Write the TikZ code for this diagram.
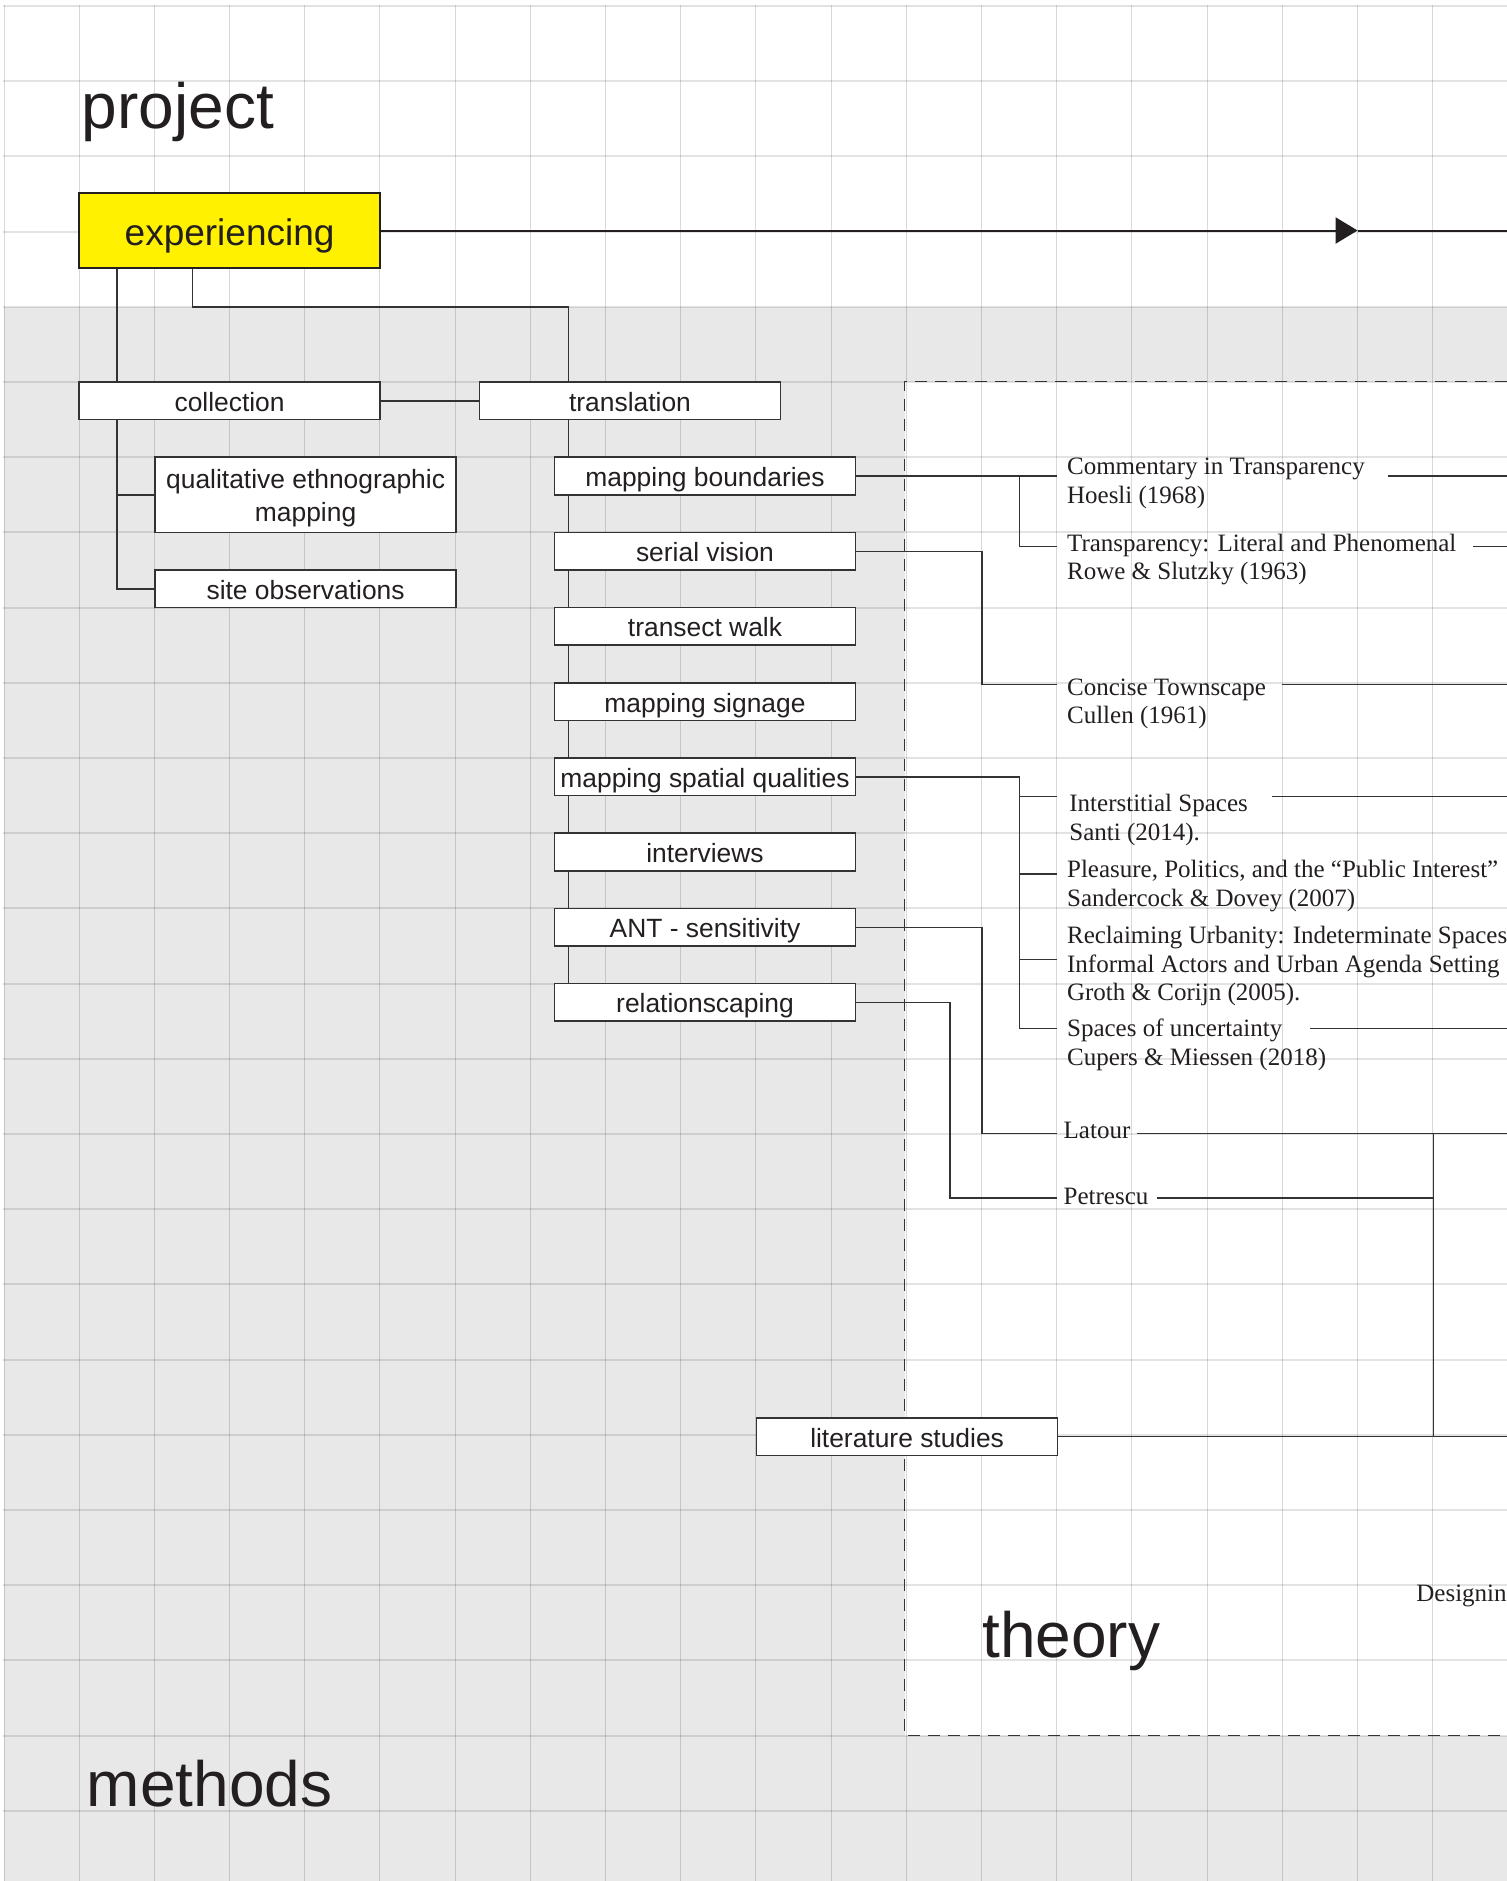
\documentclass[tikz,border=0pt]{standalone}
\usepackage{fontspec}
\setmainfont{Liberation Serif}
\setsansfont{Liberation Sans}
\usetikzlibrary{arrows.meta}
\definecolor{gridbg}{HTML}{E8E8E8}
\definecolor{ink}{HTML}{231F20}
\definecolor{linec}{HTML}{333333}
\definecolor{yel}{HTML}{FFF100}
\begin{document}
\begin{tikzpicture}[x=0.5pt,y=-0.5pt,
  boxbase/.style={draw=linec, line width=0.75pt, fill=white, minimum width=150.5pt,
    minimum height=18.8pt, inner sep=0pt, text=ink,
    font=\sffamily\fontsize{13.2}{15}\selectfont},
  methodbox/.style={boxbase, text height=10.5pt, text depth=0pt},
  twolinebox/.style={boxbase, minimum height=37.6pt, text height=26.4pt, text depth=0pt,
    font=\sffamily\fontsize{13.2}{16.2}\selectfont},
  mainbox/.style={draw=ink, line width=1.1pt, fill=yel, minimum width=150.4pt,
    minimum height=37.8pt, inner sep=0pt, text=ink, text height=14.5pt, text depth=0pt,
    font=\sffamily\fontsize{18.5}{20}\selectfont},
  biglabel/.style={anchor=base west, inner sep=0pt, text=ink,
    font=\sffamily\fontsize{32}{36}\selectfont},
  cite/.style={anchor=base west, inner sep=0pt, text=ink,
    font=\rmfamily\fontsize{12.5}{14.4}\selectfont},
  conn/.style={draw=linec, line width=0.7pt},
  gridv/.style={draw=black, draw opacity=0.15, line width=0.5pt},
  gridh/.style={draw=black, draw opacity=0.11, line width=1pt},
  dashline/.style={draw=linec, line width=0.6pt, dash pattern=on 6pt off 4pt},
]
\useasboundingbox (0,0) rectangle (1507,1881);
\clip (0,0) rectangle (1507,1881);

% backgrounds
\fill[white] (0,0) rectangle (1507,1881);
\fill[gridbg] (4,306.8) rectangle (1507,1881);
\fill[white] (904.5,381.5) rectangle (1507,1735.6);

% grid (snapped to pixels)
\foreach \i in {0,...,19} {
  \pgfmathsetmacro\gx{int(4+75.2*\i)+0.5}
  \draw[gridv] (\gx,5) -- (\gx,1881);
}
\foreach \j in {0,...,24} {
  \pgfmathsetmacro\gy{int(6.5+75.2*\j)}
  \draw[gridh] (3,\gy) -- (1507,\gy);
}

% theory frame
\draw[dashline] (1507,381.5) -- (904.5,381.5) -- (904.5,1735.6) -- (1507,1735.6);

% big labels
\node[biglabel] (project) at (81.4,128.3) {project};
\node[biglabel] (methods) at (86.5,1806) {methods};
\node[biglabel] (theory) at (982,1657) {theory};

% helper coordinates
\coordinate (xa) at (117,0);
\coordinate (xb) at (192.5,306.8);
\coordinate (xt) at (568.3,0);
\coordinate (ja) at (1019.4,0);
\coordinate (jb) at (982,0);
\coordinate (jc) at (950,0);
\coordinate (jd) at (1433.3,0);
\coordinate (edge) at (1507,0);

% connector ends at the references
\coordinate (eCom) at (1057,476);
\coordinate (eTra) at (1057,546.7);
\coordinate (eCon) at (1057,684.3);
\coordinate (eInt) at (1057,796.7);
\coordinate (ePle) at (1057,874);
\coordinate (eRec) at (1057,959.3);
\coordinate (eSpa) at (1057,1028.3);
\coordinate (eLat) at (1057,1133.5);
\coordinate (ePet) at (1057,1198);
% tails after the references
\coordinate (tCom) at (1387.7,476);
\coordinate (tTra) at (1473.3,546.7);
\coordinate (tCon) at (1281.7,684.3);
\coordinate (tInt) at (1271.7,796.7);
\coordinate (tSpa) at (1310,1028.3);
\coordinate (tLat) at (1136.7,1133.5);
\coordinate (tPet) at (1156.7,1198);

% main arrow
\coordinate (atip) at (1357.6,230.5);
\coordinate (aend) at (1507,230.5);

% ---------- node positions (boxes drawn after the connectors) ----------
\path
  node[mainbox] (exp) at (229.6,230.5) {experiencing}
  node[methodbox] (coll) at (229.6,400.8) {collection}
  node[methodbox] (trans) at (630,400.8) {translation}
  node[twolinebox] (qual) at (305.6,494.8) {\begin{tabular}[b]{@{}c@{}}qualitative ethnographic\\mapping\end{tabular}}
  node[methodbox] (site) at (305.6,588.8) {site observations}
  node[methodbox] (mb) at (705,476) {mapping boundaries}
  node[methodbox] (sv) at (705,551.2) {serial vision}
  node[methodbox] (tw) at (705,626.4) {transect walk}
  node[methodbox] (ms) at (705,701.6) {mapping signage}
  node[methodbox] (msq) at (705,776.8) {mapping spatial qualities}
  node[methodbox] (iv) at (705,852) {interviews}
  node[methodbox] (ant) at (705,927.2) {ANT - sensitivity}
  node[methodbox] (rel) at (705,1002.4) {relationscaping}
  node[methodbox] (lit) at (907.1,1436.7) {literature studies};

% ---------- references (text) ----------
\node[cite] (com) at (1066.7,474.3) {\vtop{\hbox{Commentary in Transparency}\hbox{Hoesli (1968)}}};
\node[cite] (tra) at (1066.7,551) {\vtop{\hbox{Transparency: Literal and Phenomenal}\hbox{Rowe \& Slutzky (1963)}}};
\node[cite] (con) at (1066.7,695) {\vtop{\hbox{Concise Townscape}\hbox{Cullen (1961)}}};
\node[cite] (int) at (1069,811.7) {\vtop{\hbox{Interstitial Spaces}\hbox{Santi (2014).}}};
\node[cite] (ple) at (1066.7,877.3) {\vtop{\hbox{Pleasure, Politics, and the “Public Interest”}\hbox{Sandercock \& Dovey (2007)}}};
\node[cite] (rec) at (1066.7,943.3) {\vtop{\hbox{Reclaiming Urbanity: Indeterminate Spaces}\hbox{Informal Actors and Urban Agenda Setting}\hbox{Groth \& Corijn (2005).}}};
\node[cite] (spa) at (1066.7,1036.7) {\vtop{\hbox{Spaces of uncertainty}\hbox{Cupers \& Miessen (2018)}}};
\node[cite] (lat) at (1063.3,1138.3) {Latour};
\node[cite] (pet) at (1063.3,1204) {Petrescu};
\node[cite] (des) at (1416,1601) {Designin};

% ---------- connectors ----------
\draw[line width=1pt, draw=ink, -{Triangle[length=11pt,width=13pt]}] (exp.east) -- (atip);
\draw[line width=1pt, draw=ink] (atip) -- (aend);

\draw[conn] (exp.south -| xa) -- (coll.north -| xa);
\draw[conn] (exp.south -| xb) -- (xb) -| (trans.north -| xt);
\draw[conn] (coll.south -| xa) |- (site.west);
\draw[conn] (qual.west -| xa) -- (qual.west);
\draw[conn] (coll.east) -- (trans.west);
\draw[conn] (trans.south -| xt) -- (rel.north -| xt);

\draw[conn] (mb.east) -- (eCom);
\draw[conn] (mb.east -| ja) |- (eTra);
\draw[conn] (sv.east) -| (jb |- eCon) -- (eCon);
\draw[conn] (msq.east) -| (ja |- eSpa) -- (eSpa);
\draw[conn] (ja |- eInt) -- (eInt);
\draw[conn] (ja |- ePle) -- (ePle);
\draw[conn] (ja |- eRec) -- (eRec);
\draw[conn] (ant.east) -| (jb |- eLat) -- (eLat);
\draw[conn] (rel.east) -| (jc |- ePet) -- (ePet);

\draw[conn] (tCom) -- (tCom -| edge);
\draw[conn] (tTra) -- (tTra -| edge);
\draw[conn] (tCon) -- (tCon -| edge);
\draw[conn] (tInt) -- (tInt -| edge);
\draw[conn] (tSpa) -- (tSpa -| edge);
\draw[conn] (tLat) -- (tLat -| edge);
\draw[conn] (tPet) -- (tPet -| jd);
\draw[conn] (jd |- tLat) -- (jd |- lit.east);
\draw[conn] (lit.east) -- (lit.east -| edge);

% ---------- boxes on top of connectors ----------
\node[mainbox] at (exp) {experiencing};
\node[methodbox] at (coll) {collection};
\node[methodbox] at (trans) {translation};
\node[twolinebox] at (qual) {\begin{tabular}[b]{@{}c@{}}qualitative ethnographic\\mapping\end{tabular}};
\node[methodbox] at (site) {site observations};
\node[methodbox] at (mb) {mapping boundaries};
\node[methodbox] at (sv) {serial vision};
\node[methodbox] at (tw) {transect walk};
\node[methodbox] at (ms) {mapping signage};
\node[methodbox] at (msq) {mapping spatial qualities};
\node[methodbox] at (iv) {interviews};
\node[methodbox] at (ant) {ANT - sensitivity};
\node[methodbox] at (rel) {relationscaping};
\node[methodbox] at (lit) {literature studies};
\end{tikzpicture}
\end{document}
